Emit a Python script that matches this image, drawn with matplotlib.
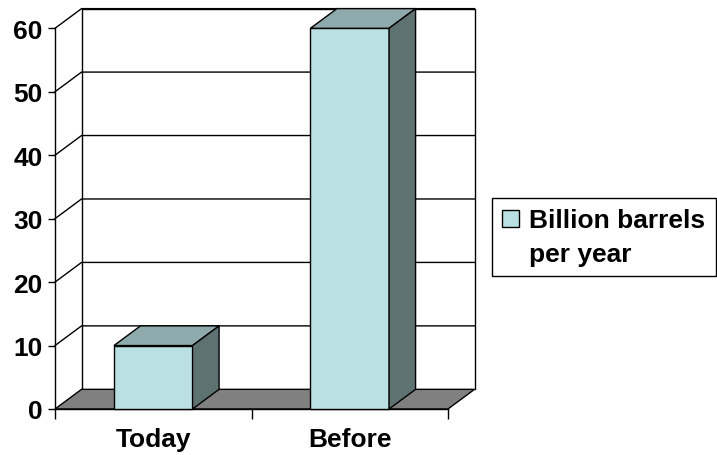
import matplotlib
matplotlib.use('Agg')
import matplotlib.pyplot as plt
from matplotlib.patches import Polygon, Patch, Rectangle
from matplotlib.legend_handler import HandlerPatch

# data
categories = ['Today', 'Before']
values = [10, 60]
series_name = 'Billion barrels\nper year'
y_ticks = [0, 10, 20, 30, 40, 50, 60]

# colours (Excel style 3d column)
front_color = '#BAE0E3'
top_color = '#8FAAAC'
side_color = '#5F7272'
floor_color = '#808080'

plt.rcParams['font.family'] = ['Liberation Sans', 'DejaVu Sans']
plt.rcParams['font.weight'] = 'bold'
fs = 19

W, H = 717, 456
fig = plt.figure(figsize=(W / 100, H / 100), dpi=100)
# front plane of the 3d box
ax = fig.add_axes([55 / W, (H - 410) / H, 393 / W, 380.7 / H])
ax.set_xlim(-0.5, 1.5)
ax.set_ylim(0, 60)

# depth of the fake 3d effect, in data units
dx = 0.135
dy = 3.1
x0, x1 = -0.5, 1.5
bar_w = 0.4

# back wall + gridlines (with the diagonal on the left wall)
ax.plot([x0 + dx, x0 + dx, x1 + dx, x1 + dx], [dy, 60 + dy, 60 + dy, dy],
        color='black', lw=1, clip_on=False, zorder=1)
for t in y_ticks[1:]:
    ax.plot([x0, x0 + dx, x1 + dx], [t, t + dy, t + dy],
            color='black', lw=1, clip_on=False, zorder=1)

# floor
ax.add_patch(Polygon([(x0, 0), (x1, 0), (x1 + dx, dy), (x0 + dx, dy)],
                     closed=True, facecolor=floor_color, edgecolor='black',
                     lw=1, clip_on=False, zorder=2))

# bars: front face through ax.bar, then top and side faces
xs = list(range(len(categories)))
ax.bar(xs, values, width=bar_w, color=front_color, edgecolor='black',
       lw=1, zorder=3, clip_on=False)
for x, v in zip(xs, values):
    xl, xr = x - bar_w / 2, x + bar_w / 2
    ax.add_patch(Polygon([(xl, v), (xr, v), (xr + dx, v + dy), (xl + dx, v + dy)],
                         closed=True, facecolor=top_color, edgecolor='black',
                         lw=1, clip_on=False, zorder=3))
    ax.add_patch(Polygon([(xr, 0), (xr + dx, dy), (xr + dx, v + dy), (xr, v)],
                         closed=True, facecolor=side_color, edgecolor='black',
                         lw=1, clip_on=False, zorder=3))

for s in ['top', 'right']:
    ax.spines[s].set_visible(False)
ax.spines['left'].set_linewidth(1)
ax.spines['bottom'].set_linewidth(1)
ax.set_facecolor('none')

ax.set_yticks(y_ticks)
ax.tick_params(axis='y', direction='out', length=5, width=1, labelsize=fs, pad=4)
ax.set_xticks([-0.5, 0.5, 1.5])
ax.set_xticklabels([])
ax.set_xticks(xs, minor=True)
ax.set_xticklabels(categories, minor=True)
ax.tick_params(axis='x', which='minor', length=0, pad=13, labelsize=fs)
ax.tick_params(axis='x', which='major', direction='out', length=7, width=1)


def shifted_square(legend, orig_handle, xdescent, ydescent, width, height, fontsize):
    # put the swatch next to the first line of the label
    return Rectangle((-xdescent, -ydescent + 13.5), width, height)


leg = fig.legend(handles=[Patch(facecolor=front_color, edgecolor='black')],
                 labels=[series_name], loc='upper left',
                 bbox_to_anchor=(492 / W, 1 - 199 / H), bbox_transform=fig.transFigure,
                 fontsize=fs, frameon=True, fancybox=False, edgecolor='black',
                 framealpha=1, borderaxespad=0, borderpad=0.38,
                 handlelength=0.64, handleheight=0.64, handletextpad=0.4,
                 handler_map={Patch: HandlerPatch(patch_func=shifted_square)})
leg.get_frame().set_linewidth(1)
leg.get_texts()[0].set_linespacing(1.5)

fig.savefig('out.png', dpi=100)
